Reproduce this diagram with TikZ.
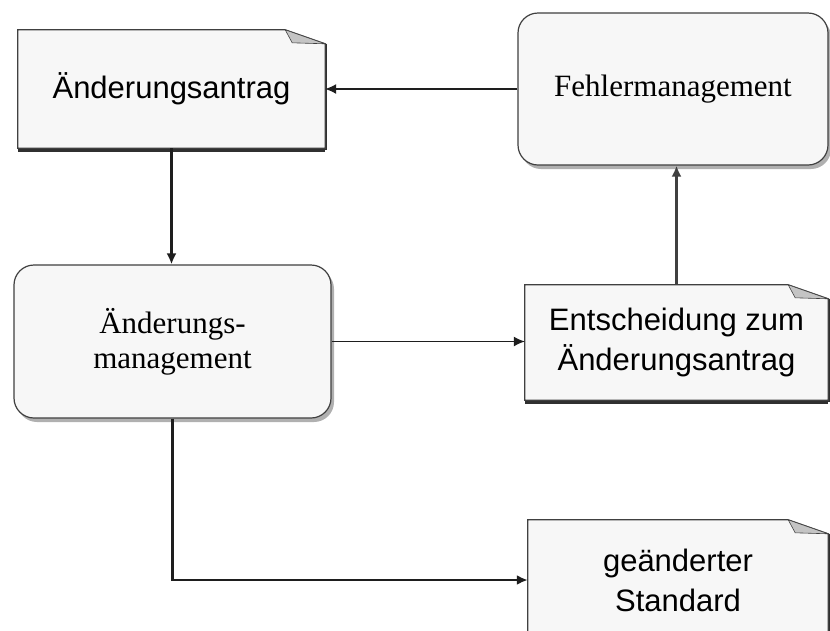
\documentclass[tikz,border=0pt]{standalone}
\usepackage{fontspec}
\setmainfont{Liberation Serif}
\newfontfamily\arialf{Liberation Sans}
\usetikzlibrary{calc,arrows.meta,shadows,backgrounds}
\definecolor{boxfill}{HTML}{F7F7F7}
\definecolor{edge}{HTML}{404040}
\definecolor{shdark}{HTML}{303030}
\definecolor{foldgray}{HTML}{C4C4C4}
\definecolor{softshadow}{HTML}{A8A8A8}
\definecolor{linecol}{HTML}{1E1E1E}
\newcommand\docoutline[1]{%
  \fill[boxfill] (#1.south west) -- (#1.north west) -- ($(#1.north east)+(-40,0)$) -- ($(#1.north east)+(0,14)$) -- (#1.south east) -- cycle;
  \draw[shdark, line width=4pt] ($(#1.south west)+(0,2)$) -- ($(#1.south east)+(0,2)$);
  \draw[shdark, line width=2pt] ($(#1.north east)+(1,14)$) -- ($(#1.south east)+(1,2)$);
  \draw[edge, line width=1.2pt] (#1.south west) -- (#1.north west) -- ($(#1.north east)+(-40,0)$) -- ($(#1.north east)+(0,14)$) -- (#1.south east) -- cycle;
  \filldraw[fill=foldgray, draw=edge, line width=0.6pt] ($(#1.north east)+(-40,0)$) -- ($(#1.north east)+(-33,13)$) -- ($(#1.north east)+(0,14)$) -- cycle;
}
\begin{document}
\begin{tikzpicture}[x=1pt,y=-1pt,
  docbox/.style={rectangle, inner sep=0pt, align=center,
    font=\arialf\fontsize{31}{40}\selectfont},
  roundbox/.style={rectangle, rounded corners=20pt, draw=edge, line width=1.2pt,
    fill=boxfill, inner sep=0pt, align=center,
    font=\fontsize{31}{35}\selectfont,
    drop shadow={shadow xshift=3pt, shadow yshift=-4pt, fill=softshadow, opacity=0.9}},
  conn/.style={draw=linecol, line width=2.4pt, -{Latex[length=11pt,width=10pt]}},
  thinconn/.style={draw=linecol, line width=1.3pt, -{Latex[length=11pt,width=10pt]}},
  grayconn/.style={draw=edge, line width=2.4pt, -{Latex[length=11pt,width=10pt]}}
]
\useasboundingbox (0,0) rectangle (830,630);

\node[docbox, minimum width=307pt, minimum height=118pt] (antrag) at (171.5,89) {Änderungsantrag};
\node[roundbox, minimum width=310pt, minimum height=152pt] (fehler) at (673,89) {Fehlermanagement};
\node[roundbox, minimum width=317pt, minimum height=153pt] (mgmt) at (172.5,341.5) {Änderungs-\\management};
\node[docbox, minimum width=303pt, minimum height=115pt] (entsch) at (676.5,342.5) {Entscheidung zum\\Änderungsantrag};
\node[docbox, minimum width=300pt, minimum height=120pt] (std) at (678,580) {geänderter\\Standard};

\begin{scope}[on background layer]
  \fill[white] (0,0) rectangle (830,630);
  \docoutline{antrag}
  \docoutline{entsch}
  \docoutline{std}
\end{scope}

\draw[thinconn] (fehler.west) -- (antrag.east);
\draw[conn] (antrag.south) -- (antrag.south |- mgmt.north);
\draw[thinconn] (mgmt.east) -- (mgmt.east -| entsch.west);
\draw[grayconn] (entsch.north) -- (entsch.north |- fehler.south);
\draw[conn] (mgmt.south) |- (std.west);
\end{tikzpicture}
\end{document}
